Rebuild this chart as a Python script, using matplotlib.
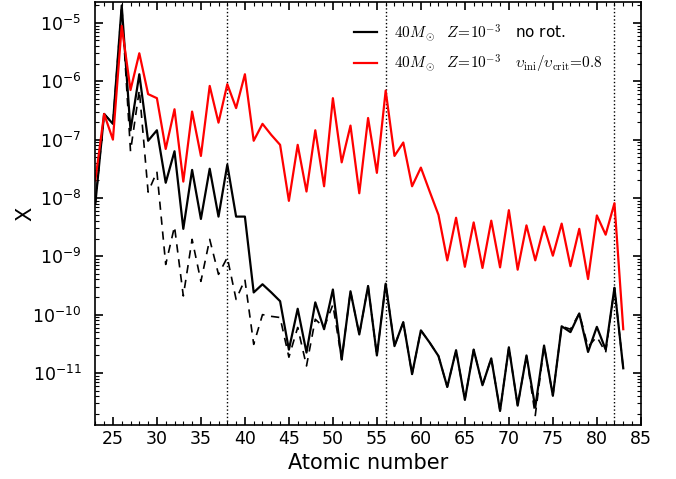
import numpy as np
import matplotlib
matplotlib.use('Agg')
import matplotlib.pyplot as plt
from matplotlib.ticker import FuncFormatter, MultipleLocator, FixedLocator, NullFormatter

plt.rcParams['mathtext.fontset'] = 'cm'

# atomic numbers
z = np.arange(23, 84)

# log10 of mass fraction
# 40 Msun, Z=1e-3, no rotation (solid black)
norot = [-8.1, -6.56, -6.73, -4.7, -6.84, -5.88, -7.02, -6.84, -7.74, -7.2,
         -8.53, -7.52, -8.36, -7.5, -8.32, -7.43, -8.32, -8.32, -9.62, -9.48,
         -9.62, -9.77, -10.6, -9.9, -10.65, -9.79, -10.25, -9.57, -10.77, -9.6,
         -10.34, -9.51, -10.7, -9.47, -10.54, -10.13, -11.02, -10.27, -10.48, -10.71,
         -11.24, -10.61, -11.46, -10.6, -11.21, -10.75, -11.65, -10.56, -11.56, -10.7,
         -11.59, -10.53, -11.39, -10.2, -10.3, -9.98, -10.64, -10.21, -10.6, -9.54,
         -10.92]

# same model, second curve (dashed black)
dashed = [-8.1, -6.56, -6.73, -4.7, -7.2, -6.15, -7.9, -7.55, -9.14, -8.49,
          -9.68, -8.71, -9.43, -8.71, -9.31, -9.02, -9.74, -9.4, -10.51, -10.0,
          -10.03, -10.05, -10.73, -10.22, -10.88, -10.08, -10.22, -9.83, -10.77, -9.6,
          -10.34, -9.51, -10.7, -9.47, -10.54, -10.13, -11.02, -10.27, -10.48, -10.71,
          -11.24, -10.61, -11.46, -10.6, -11.21, -10.75, -11.65, -10.56, -11.56, -10.7,
          -11.73, -10.53, -11.39, -10.2, -10.25, -9.98, -10.55, -10.38, -10.65, -9.54,
          -10.92]

# 40 Msun, Z=1e-3, v/vcrit=0.8 (red)
rot = [-7.7, -6.56, -7.0, -5.05, -6.15, -5.52, -6.22, -6.29, -7.16, -6.48,
       -7.72, -6.52, -7.28, -6.08, -6.71, -6.05, -6.46, -5.88, -7.02, -6.73,
       -6.92, -7.09, -8.05, -7.09, -7.89, -6.84, -7.8, -6.29, -7.39, -6.76,
       -7.92, -6.63, -7.57, -6.16, -7.28, -7.05, -7.8, -7.48, -7.89, -8.29,
       -9.07, -8.34, -9.18, -8.42, -9.2, -8.39, -9.19, -8.21, -9.23, -8.47,
       -9.07, -8.49, -8.99, -8.44, -9.17, -8.53, -9.39, -8.3, -8.63, -8.09,
       -10.25]

vlines = [38, 56, 82]
ydecades = [-11, -10, -9, -8, -7, -6, -5]

fig = plt.figure(figsize=(6.76, 4.79), dpi=100)
ax = fig.add_axes([0.141, 0.113, 0.807, 0.883])

for v in vlines:
    ax.axvline(v, color='k', ls=':', lw=1.0)

ax.plot(z, 10**np.array(dashed), color='k', ls='--', lw=1.2, dashes=(5, 4))
ax.plot(z, 10**np.array(norot), color='k', lw=1.6,
        label=r'$40M_\odot$  $Z\!=\!10^{-3}$   no rot.')
ax.plot(z, 10**np.array(rot), color='red', lw=1.6,
        label=r'$40M_\odot$  $Z\!=\!10^{-3}$   $\upsilon_\mathrm{ini}/\upsilon_\mathrm{crit}\!=\!0.8$')

ax.set_yscale('log')
ax.set_xlim(23, 85)
ax.set_ylim(10**-11.89, 10**-4.64)

ax.xaxis.set_major_locator(MultipleLocator(5))
ax.xaxis.set_minor_locator(MultipleLocator(1))
ax.yaxis.set_major_locator(FixedLocator([10.0**d for d in ydecades]))
minors = [m * 10.0**d for d in range(-12, -4) for m in range(2, 10)]
minors = [m for m in minors if 10**-11.89 < m < 10**-4.64]
ax.yaxis.set_minor_locator(FixedLocator(minors))
ax.yaxis.set_major_formatter(FuncFormatter(
    lambda v, p: r'$\mathregular{10^{%d}}$' % round(np.log10(v))))
ax.yaxis.set_minor_formatter(NullFormatter())

ax.tick_params(which='both', direction='in', top=True, right=True, labelsize=12.5)
ax.tick_params(which='major', length=6, width=1.2)
ax.tick_params(axis='y', which='major', pad=10)
ax.tick_params(which='minor', length=3, width=0.8)
for s in ax.spines.values():
    s.set_linewidth(1.2)

ax.set_xlabel('Atomic number', fontsize=15)
ax.set_ylabel('X', fontsize=15)
ax.yaxis.set_label_coords(-0.11, 0.5)

ax.legend(loc='upper right', bbox_to_anchor=(0.955, 0.985), frameon=False,
          fontsize=11, handlelength=1.5, handletextpad=1.1, labelspacing=0.65)

fig.savefig('out.png', dpi=100)
